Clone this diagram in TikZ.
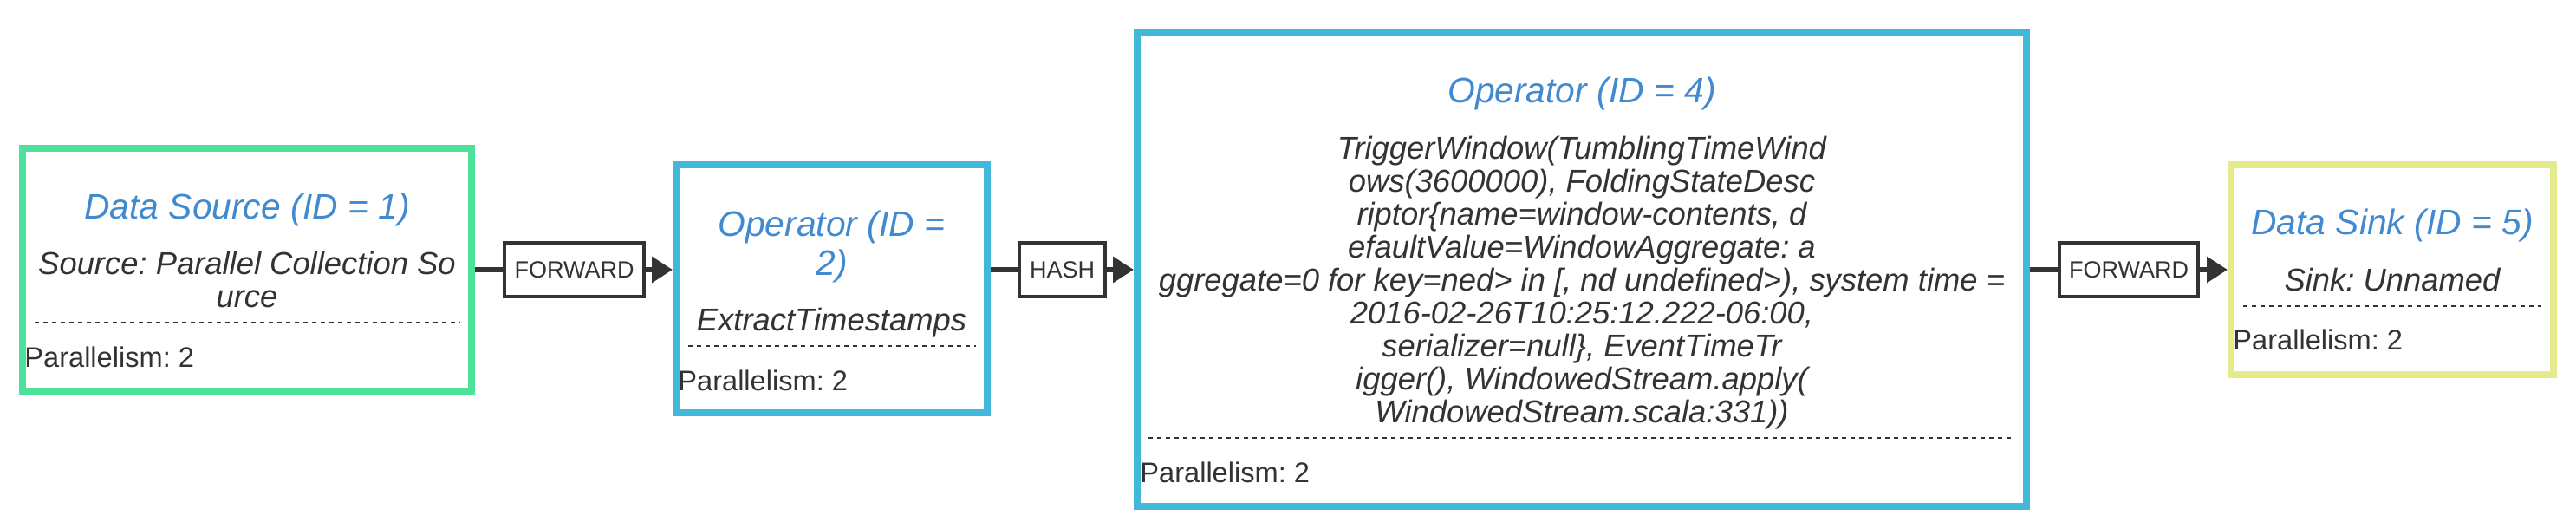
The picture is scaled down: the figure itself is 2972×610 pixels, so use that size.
\documentclass[tikz,border=0pt]{standalone}
\usepackage{fontspec}
\setmainfont{Liberation Sans}
\frenchspacing
\usepackage{tikz}
\usetikzlibrary{arrows.meta}
\definecolor{srcgreen}{RGB}{77,226,155}
\definecolor{opblue}{RGB}{65,183,217}
\definecolor{sinkyellow}{RGB}{229,235,140}
\definecolor{titleblue}{RGB}{66,138,208}
\definecolor{darkgray}{RGB}{51,51,51}

\begin{document}
\begin{tikzpicture}[>={Triangle[length=12pt, width=14.5pt]}, x=0.5pt, y=-0.5pt,
  opbox/.style={draw, line width=4pt, fill=white, inner sep=0pt},
  nodetitle/.style={inner sep=0pt, anchor=base, align=center, text=titleblue,
    font=\fontsize{20.4}{22.5}\selectfont\itshape},
  nodedesc/.style={inner sep=0pt, anchor=base, align=center, text=darkgray,
    font=\fontsize{18.2}{19}\selectfont\itshape},
  paral/.style={inner sep=0pt, anchor=base west, text=darkgray,
    font=\fontsize{16.3}{19}\selectfont},
  sepline/.style={darkgray, line width=1pt, dash pattern=on 2.5pt off 2.5pt},
  strategy/.style={draw=darkgray, line width=2pt, fill=white, inner sep=0pt,
    minimum height=31pt, text=darkgray, font=\fontsize{13.5}{16}\selectfont},
  conn/.style={darkgray, line width=3pt}]
  \useasboundingbox (0,0) rectangle (2972,610);

  % the four operators
  \node[opbox, draw=srcgreen, minimum width=259pt, minimum height=140pt] (src) at (285,311) {};
  \node[opbox, draw=opblue, minimum width=179.5pt, minimum height=143pt] (op2) at (959.5,333) {};
  \node[opbox, draw=opblue, minimum width=513pt, minimum height=273pt] (op4) at (1825,311) {};
  \node[opbox, draw=sinkyellow, minimum width=186pt, minimum height=121pt] (sink) at (2760,311) {};

  % data source (base = last line)
  \node[nodetitle] (srctitle) at (285,252) {Data Source (ID = 1)};
  \node[nodedesc] (srcdesc) at (285,354) {Source: Parallel Collection So\\urce};
  \draw[sepline] (40,372) -- (531,372);
  \node[paral] (srcpar) at (28,423) {Parallelism: 2};

  % timestamps
  \node[nodetitle] (op2title) at (959.5,317) {Operator (ID =\\2)};
  \node[nodedesc] (op2desc) at (959.5,381) {ExtractTimestamps};
  \draw[sepline] (794,399) -- (1126,399);
  \node[paral] (op2par) at (782,450) {Parallelism: 2};

  % window
  \node[nodetitle] (op4title) at (1825,119) {Operator (ID = 4)};
  \node[nodedesc] (op4desc) at (1825,487) {TriggerWindow(TumblingTimeWind\\
    ows(3600000), FoldingStateDesc\\
    riptor\{name=window-contents, d\\
    efaultValue=WindowAggregate: a\\
    ggregate=0 for key=ned> in [, nd undefined>), system time =\\
    2016-02-26T10:25:12.222-06:00,\\
    serializer=null\}, EventTimeTr\\
    igger(), WindowedStream.apply(\\
    WindowedStream.scala:331))};
  \draw[sepline] (1325,505) -- (2324,505);
  \node[paral] (op4par) at (1315,556) {Parallelism: 2};

  % sink
  \node[nodetitle] (sinktitle) at (2760,270) {Data Sink (ID = 5)};
  \node[nodedesc] (sinkdesc) at (2760,335) {Sink: Unnamed};
  \draw[sepline] (2588,353) -- (2932,353);
  \node[paral] (sinkpar) at (2576,403) {Parallelism: 2};

  % ship strategies
  \node[strategy, minimum width=80.5pt] (fwd1) at (662.5,311) {FORWARD};
  \node[strategy, minimum width=49.5pt] (hash) at (1225.5,311) {HASH};
  \node[strategy, minimum width=80pt] (fwd2) at (2456,311) {FORWARD};

  \draw[conn] (src) -- (fwd1);
  \draw[conn, ->] (fwd1) -- (fwd1 -| op2.west);
  \draw[conn] (op2.east |- hash) -- (hash);
  \draw[conn, ->] (hash) -- (op4);
  \draw[conn] (op4) -- (fwd2);
  \draw[conn, ->] (fwd2) -- (sink);
\end{tikzpicture}
\end{document}
